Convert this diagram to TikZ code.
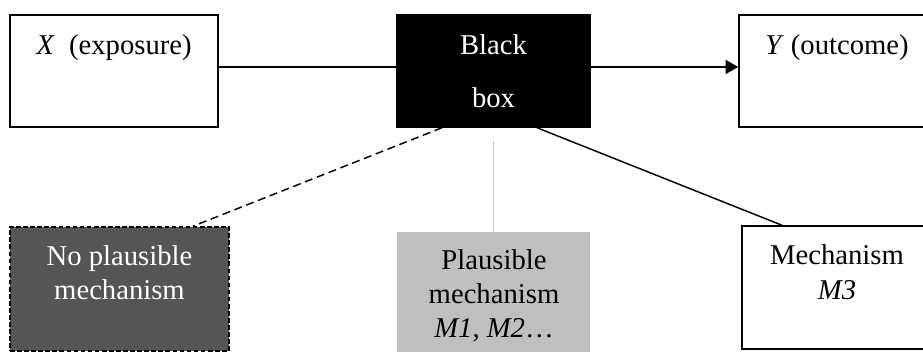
\documentclass[tikz,border=0pt]{standalone}
\usepackage{fontspec}
\setmainfont{Liberation Serif}
\usetikzlibrary{shapes,arrows.meta}
\definecolor{darkfill}{RGB}{85,85,85}
\definecolor{lightfill}{RGB}{191,191,191}
\definecolor{linegray}{RGB}{200,200,200}
\tikzstyle{bx}=[rectangle,draw=black,line width=1.1pt,inner sep=0pt]
\tikzstyle{txt}=[anchor=base,align=center,inner sep=0pt,font=\fontsize{21.5}{25.5}\selectfont]
\tikzstyle{ln}=[line width=1.1pt]

\begin{document}
\begin{tikzpicture}[x=0.75pt,y=-0.75pt]
\useasboundingbox (0,0) rectangle (923,352);
\node[bx,minimum width=156pt,minimum height=84pt] (xbox) at (114,71) {};
\node[bx,fill=black,minimum width=144.75pt,minimum height=84pt] (bbox) at (493.5,71) {};
\node[bx,minimum width=140.25pt,minimum height=84pt] (ybox) at (832.5,71) {};
\node[bx,fill=darkfill,dash pattern=on 3.5pt off 1.8pt,minimum width=164.25pt,minimum height=93pt] (nomech) at (119.5,289) {};
\node[rectangle,fill=lightfill,minimum width=144.75pt,minimum height=91.5pt] (plaus) at (493.5,293) {};
\node[bx,minimum width=138pt,minimum height=92.25pt] (mech) at (834,287.5) {};
\node[txt] (xtxt) at (114,55) {\textit{X}\ \ (exposure)};
\node[txt,text=white] (btxt) at (493.5,108) {Black\\[14.25pt]box};
\node[txt] (ytxt) at (837,55) {\textit{Y} (outcome)};
\node[txt,text=white] (ntxt) at (119.5,300) {No plausible\\mechanism};
\node[txt] (ptxt) at (494,337) {Plausible\\mechanism\\\textit{M1}, \textit{M2}…};
\node[txt] (mtxt) at (837,299) {Mechanism\\\textit{M3}};
\draw[ln] ([yshift=3pt]xbox.east) -- ([yshift=3pt]bbox.west);
\draw[ln,-{Triangle[length=9.5pt,width=10.5pt]}] ([yshift=3pt]bbox.east) -- ([yshift=3pt]ybox.west);
\draw[ln,dash pattern=on 6pt off 3.5pt] ([xshift=-38.6pt]bbox.south) -- ([xshift=55pt]nomech.north);
\draw[linegray,line width=.8pt] ([yshift=-9.75pt]bbox.south) -- (plaus.north);
\draw[ln] ([xshift=32.6pt]bbox.south) -- ([xshift=-39pt]mech.north);
\end{tikzpicture}
\end{document}
